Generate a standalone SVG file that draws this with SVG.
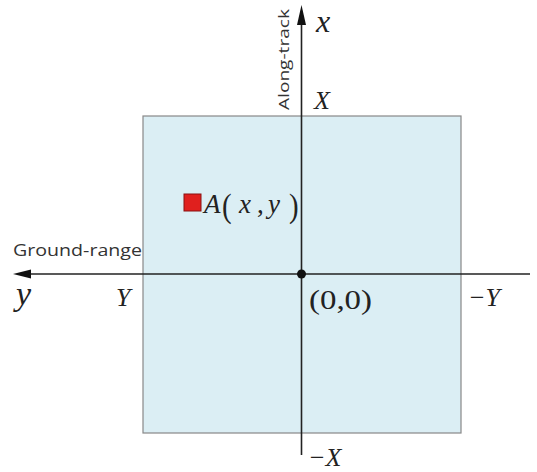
<svg xmlns="http://www.w3.org/2000/svg" width="537" height="472" viewBox="0 0 537 472">
<defs>
<style>
.m{font-family:"Liberation Serif","Times New Roman",serif;font-style:italic;fill:#222}
.p{font-family:"Liberation Serif","Times New Roman",serif;fill:#222}
.s{font-family:"Open Sans","Liberation Sans",sans-serif;fill:#333}
.ax{stroke:#222;stroke-width:1.6;fill:none}
.head{fill:#111}
</style>
</defs>
<rect width="537" height="472" fill="#fff"/>
<g id="area">
<rect x="143" y="116" width="318" height="317" fill="#dbeef4" stroke="#888" stroke-width="1.2"/>
</g>
<g id="connectors">
<line class="ax" x1="301.5" y1="455" x2="301.5" y2="20"/>
<path class="head" d="M301.5,5 L297,25 L306,25 z"/>
<line class="ax" x1="530" y1="274" x2="28" y2="274"/>
<path class="head" d="M13,274 L31,269.5 L31,278.5 z"/>
</g>
<g id="origin">
<circle cx="301.5" cy="274" r="4.5" fill="#111"/>
<text class="p" x="309" y="309" font-size="27" textLength="63" lengthAdjust="spacingAndGlyphs">(0,0)</text>
</g>
<g id="pointA">
<rect x="184" y="194" width="17" height="17" fill="#e0201e" stroke="#8a1010" stroke-width="1"/>
<text class="m" x="204" y="213" font-size="27">A</text>
<text class="p" x="222" y="217" font-size="34" transform="translate(222 217) scale(0.85 1) translate(-222 -217)">(</text>
<text class="m" x="239" y="213" font-size="27">x</text>
<text class="p" x="257" y="213" font-size="27">,</text>
<text class="m" x="268" y="213" font-size="27">y</text>
<text class="p" x="289" y="217" font-size="34" transform="translate(289 217) scale(0.85 1) translate(-289 -217)">)</text>
</g>
<g id="labels">
<text class="m" x="316" y="32" font-size="32">x</text>
<text class="m" x="314" y="109" font-size="26">X</text>
<text class="s" font-size="15" transform="translate(289 110) rotate(-90)" textLength="101" lengthAdjust="spacingAndGlyphs">Along-track</text>
<text class="s" x="13" y="256" font-size="15.5" textLength="129" lengthAdjust="spacingAndGlyphs">Ground-range</text>
<text class="m" x="16" y="305" font-size="34">y</text>
<text class="m" x="116" y="306" font-size="26">Y</text>
<text class="m" x="468" y="306" font-size="26">−Y</text>
<text class="m" x="308" y="466" font-size="26">−X</text>
</g>
</svg>
